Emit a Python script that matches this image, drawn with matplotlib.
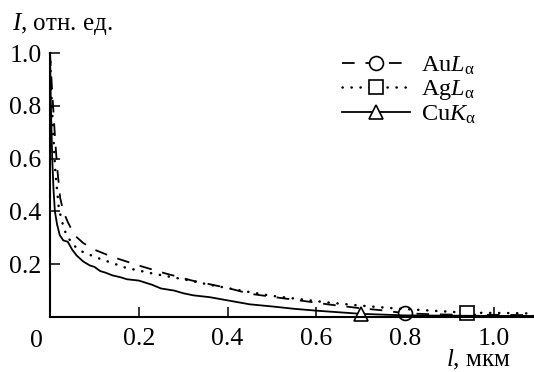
import matplotlib
matplotlib.use('Agg')
import matplotlib.pyplot as plt
import numpy as np

plt.rcParams['font.family'] = ['Liberation Serif', 'DejaVu Serif']
plt.rcParams['mathtext.fontset'] = 'custom'
plt.rcParams['mathtext.rm'] = 'Liberation Serif'
plt.rcParams['mathtext.it'] = 'Liberation Serif:italic'

# Au L-alpha (dashed, circle)
x_au = [0, 0.004, 0.008, 0.012, 0.017, 0.023, 0.03, 0.04, 0.055, 0.075, 0.1, 0.14, 0.2,
        0.26, 0.32, 0.4, 0.45, 0.52, 0.57, 0.63, 0.7, 0.75, 0.8, 0.85, 0.9, 1.0, 1.1]
y_au = [1.0, 0.88, 0.77, 0.66, 0.55, 0.45, 0.4, 0.36, 0.31, 0.28, 0.255, 0.228, 0.195,
        0.165, 0.138, 0.11, 0.088, 0.072, 0.061, 0.047, 0.033, 0.025, 0.014, 0.011, 0.009, 0.008, 0.007]

# Ag L-alpha (dotted, square)
x_ag = [0, 0.003, 0.007, 0.012, 0.02, 0.032, 0.05, 0.075, 0.11, 0.17, 0.23, 0.3, 0.36,
        0.43, 0.5, 0.56, 0.62, 0.7, 0.78, 0.85, 0.94, 1.03, 1.1]
y_ag = [1.0, 0.85, 0.7, 0.55, 0.41, 0.33, 0.275, 0.245, 0.222, 0.187, 0.165, 0.143, 0.122,
        0.1, 0.08, 0.068, 0.056, 0.043, 0.032, 0.025, 0.016, 0.015, 0.013]

# Cu K-alpha (solid, triangle)
x_cu = [0, 0.002, 0.005, 0.008, 0.011, 0.016, 0.022, 0.03, 0.04, 0.05, 0.06, 0.075, 0.09,
        0.1, 0.113, 0.125, 0.14, 0.16, 0.173, 0.2, 0.23, 0.25, 0.28, 0.3, 0.323, 0.36, 0.4,
        0.45, 0.5, 0.55, 0.6, 0.65, 0.7, 0.75, 0.8, 0.9, 1.0, 1.1]
y_cu = [1.0, 0.8, 0.6, 0.48, 0.4, 0.35, 0.31, 0.29, 0.285, 0.255, 0.233, 0.21, 0.195,
        0.19, 0.174, 0.168, 0.158, 0.15, 0.143, 0.138, 0.122, 0.108, 0.1, 0.09, 0.082, 0.075, 0.063,
        0.048, 0.04, 0.031, 0.024, 0.018, 0.012, 0.009, 0.006, 0.005, 0.004, 0.004]

f = plt.figure(figsize=(5.34, 3.72), dpi=100)
ax = f.add_axes([50/534, 55/372, 484/534, 264/372])

mk = dict(markersize=10, markerfacecolor='white', markeredgecolor='black',
          markeredgewidth=1.2, clip_on=False, color='black')
ax.plot(x_au, y_au, linestyle=(0, (7, 6)), lw=1.3, marker='o',
        markevery=[x_au.index(0.8)], label=r'Au$\mathit{L}_{\mathrm{\alpha}}$', **mk)
ax.plot(x_ag, y_ag, linestyle=(0, (0.1, 3.5)), lw=1.8, dash_capstyle='round', marker='s',
        markevery=[x_ag.index(0.94)], label=r'Ag$\mathit{L}_{\mathrm{\alpha}}$', **mk)
ax.plot(x_cu, y_cu, linestyle='-', lw=1.3, marker='^',
        markevery=[x_cu.index(0.7)], label=r'Cu$\mathit{K}_{\mathrm{\alpha}}$', **mk)

ax.set_xlim(0, 1.09)
ax.set_ylim(0, 1.0)
ax.spines['top'].set_visible(False)
ax.spines['right'].set_visible(False)
ax.spines['left'].set_linewidth(1.5)
ax.spines['bottom'].set_linewidth(1.5)
ax.set_xticks([0.2, 0.4, 0.6, 0.8, 1.0])
ax.set_xticklabels(['0.2', '0.4', '0.6', '0.8', '1.0'])
ax.set_yticks([0.2, 0.4, 0.6, 0.8, 1.0])
ax.set_yticklabels(['0.2', '0.4', '0.6', '0.8', '1.0'])
ax.tick_params(direction='in', length=7, width=1.1, labelsize=18.5)
ax.tick_params(axis='x', pad=8)
ax.tick_params(axis='y', pad=6)

f.text(36/534, 1 - 341/372, '0', fontsize=18.5, ha='center', va='center')
f.text(12/534, 1 - 24/372, r'$\mathit{I}$, отн. ед.', fontsize=18, ha='left', va='center')
f.text(478/534, 1 - 360/372, r'$\mathit{l}$, мкм', fontsize=18, ha='center', va='center')

ax.legend(loc='upper left', bbox_to_anchor=(282/484, 1.03), frameon=False, fontsize=17.5,
          handlelength=2.8, handletextpad=0.45, labelspacing=0.05, borderaxespad=0.0)

f.savefig('out.png', dpi=100)
